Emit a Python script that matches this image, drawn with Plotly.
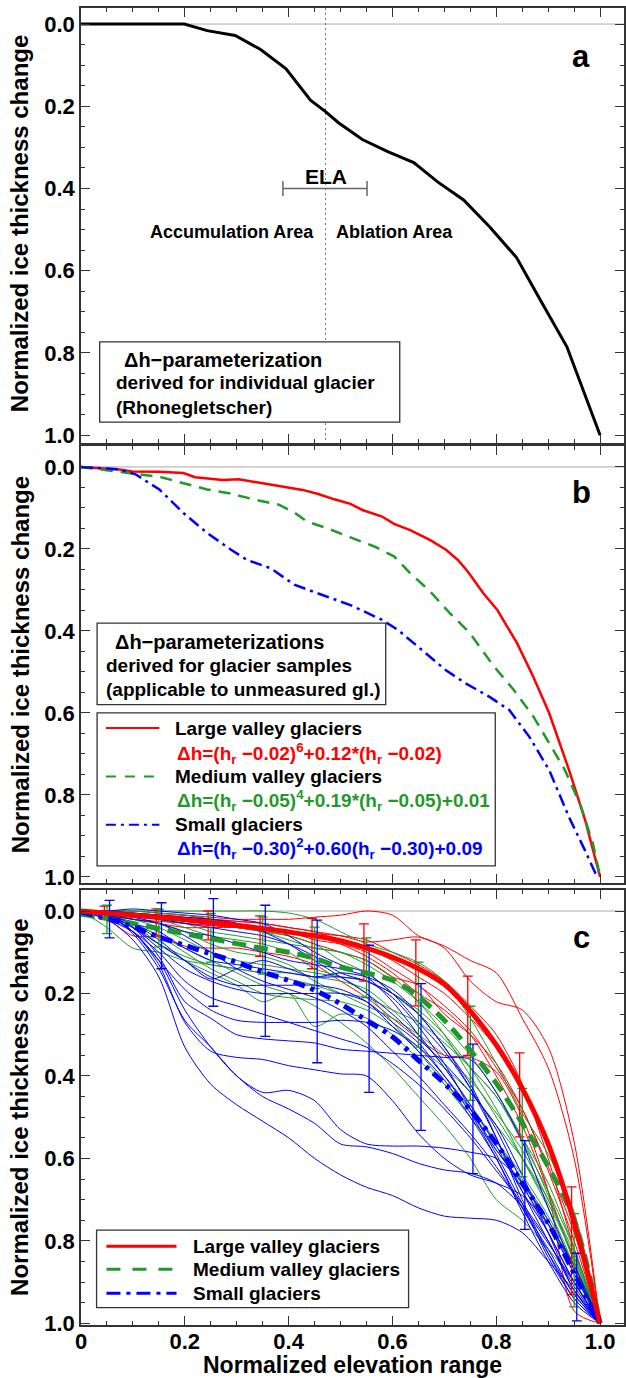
import plotly.graph_objects as go
from plotly.subplots import make_subplots

FONT = "Liberation Sans, Arial, Helvetica, sans-serif"
RED = "#ff0000"
GREEN = "#1f9a2a"
BLUE = "#0000ff"

# ---------------- Panel a : Rhonegletscher ----------------
rhone_x = [0, 0.199, 0.243, 0.297, 0.346, 0.395, 0.442, 0.471, 0.496, 0.542, 0.592,
           0.641, 0.687, 0.737, 0.787, 0.839, 0.887, 0.936, 1.0]
rhone_y = [0, 0, 0.016, 0.028, 0.062, 0.109, 0.185, 0.213, 0.24, 0.281, 0.311,
           0.337, 0.384, 0.428, 0.493, 0.568, 0.676, 0.785, 1.0]
ela_x = 0.471
ela_lo, ela_hi, ela_y = 0.389, 0.551, 0.40

# ---------------- Panel b : parameterizations ----------------
large_x = [0, 0.074, 0.098, 0.151, 0.197, 0.220, 0.273, 0.304, 0.350, 0.396, 0.427, 0.457,
           0.488, 0.519, 0.542, 0.580, 0.603, 0.634, 0.672, 0.703, 0.726, 0.745, 0.775,
           0.802, 0.840, 0.871, 0.902, 0.940, 0.971, 1.0]
large_y = [0, 0.006, 0.011, 0.012, 0.015, 0.025, 0.032, 0.030, 0.040, 0.050, 0.056, 0.066,
           0.079, 0.090, 0.105, 0.121, 0.139, 0.154, 0.178, 0.202, 0.227, 0.255, 0.308,
           0.349, 0.430, 0.511, 0.601, 0.739, 0.861, 1.0]
medium_x = [0, 0.055, 0.101, 0.151, 0.197, 0.243, 0.289, 0.335, 0.381, 0.412, 0.435, 0.473,
            0.519, 0.565, 0.603, 0.634, 0.672, 0.710, 0.749, 0.795, 0.833, 0.871, 0.902,
            0.932, 0.963, 0.986, 1.0]
medium_y = [0, 0.008, 0.016, 0.024, 0.039, 0.055, 0.065, 0.080, 0.092, 0.112, 0.133, 0.149,
            0.172, 0.194, 0.218, 0.259, 0.303, 0.356, 0.405, 0.486, 0.543, 0.608, 0.674,
            0.739, 0.828, 0.918, 1.0]
small_x = [0, 0.074, 0.105, 0.151, 0.197, 0.243, 0.289, 0.320, 0.365, 0.412, 0.473, 0.519,
           0.580, 0.611, 0.657, 0.703, 0.741, 0.787, 0.825, 0.864, 0.902, 0.940, 0.971, 0.994]
small_y = [0, 0.006, 0.018, 0.055, 0.112, 0.161, 0.202, 0.227, 0.247, 0.288, 0.316, 0.337,
           0.373, 0.398, 0.447, 0.496, 0.528, 0.561, 0.593, 0.659, 0.740, 0.854, 0.936, 1.0]

# ---------------- Panel c : individual glaciers ----------------
grid_x = [0, 0.05, 0.1, 0.15, 0.2, 0.25, 0.3, 0.35, 0.4, 0.45, 0.5,
          0.55, 0.6, 0.65, 0.7, 0.75, 0.8, 0.85, 0.9, 0.95, 1.0]

large_thin = [
    [0, 0.005, 0.01, 0.01, 0.01, 0.015, 0.02, 0.02, 0.02, 0.015, 0.01, 0.0, 0.01, 0.06, 0.085, 0.12, 0.15, 0.26, 0.38, 0.6, 1.0],
    [0, 0.0, 0.005, 0.01, 0.015, 0.02, 0.025, 0.03, 0.04, 0.05, 0.06, 0.075, 0.07, 0.063, 0.09, 0.17, 0.22, 0.24, 0.33, 0.56, 1.0],
    [0, 0.01, 0.02, 0.025, 0.03, 0.035, 0.04, 0.05, 0.06, 0.08, 0.1, 0.12, 0.16, 0.18, 0.25, 0.30, 0.37, 0.48, 0.62, 0.78, 1.0],
    [0, 0.02, 0.06, 0.063, 0.085, 0.09, 0.09, 0.1, 0.11, 0.13, 0.17, 0.21, 0.26, 0.31, 0.35, 0.355, 0.39, 0.5, 0.68, 0.97, 1.0],
    [0, 0.0, 0.005, 0.01, 0.02, 0.02, 0.025, 0.03, 0.04, 0.05, 0.07, 0.09, 0.12, 0.16, 0.2, 0.26, 0.33, 0.43, 0.57, 0.75, 1.0],
    [0, 0.01, 0.015, 0.02, 0.03, 0.035, 0.04, 0.045, 0.05, 0.07, 0.08, 0.1, 0.14, 0.18, 0.23, 0.29, 0.38, 0.48, 0.63, 0.8, 1.0],
    [0, 0.0, 0.0, 0.005, 0.01, 0.02, 0.03, 0.04, 0.05, 0.06, 0.08, 0.11, 0.15, 0.2, 0.24, 0.3, 0.4, 0.52, 0.68, 0.85, 1.0],
    [0, 0.005, 0.02, 0.03, 0.04, 0.04, 0.04, 0.045, 0.05, 0.055, 0.06, 0.07, 0.1, 0.13, 0.17, 0.23, 0.3, 0.42, 0.6, 0.82, 1.0],
]
medium_thin = [
    [0, 0, 0, 0, 0, 0, 0, 0, 0.005, 0.02, 0.05, 0.08, 0.1, 0.125, 0.17, 0.26, 0.37, 0.49, 0.59, 0.73, 1.0],
    [0, 0.04, 0.09, 0.1, 0.12, 0.13, 0.14, 0.15, 0.165, 0.18, 0.2, 0.21, 0.24, 0.27, 0.32, 0.38, 0.45, 0.55, 0.66, 0.82, 1.0],
    [0, 0.01, 0.03, 0.06, 0.1, 0.14, 0.17, 0.2, 0.21, 0.215, 0.22, 0.24, 0.28, 0.33, 0.38, 0.44, 0.52, 0.6, 0.7, 0.83, 1.0],
    [0, 0.01, 0.03, 0.08, 0.12, 0.15, 0.18, 0.22, 0.2, 0.28, 0.25, 0.26, 0.3, 0.36, 0.42, 0.48, 0.56, 0.64, 0.74, 0.86, 1.0],
    [0, 0.0, 0.005, 0.01, 0.02, 0.03, 0.04, 0.05, 0.06, 0.08, 0.12, 0.15, 0.2, 0.25, 0.31, 0.38, 0.45, 0.56, 0.68, 0.82, 1.0],
    [0, 0.005, 0.01, 0.02, 0.04, 0.06, 0.07, 0.08, 0.1, 0.14, 0.16, 0.2, 0.27, 0.34, 0.42, 0.5, 0.58, 0.67, 0.76, 0.87, 1.0],
    [0, 0.0, 0.0, 0.005, 0.01, 0.02, 0.03, 0.05, 0.07, 0.09, 0.1, 0.13, 0.17, 0.22, 0.28, 0.35, 0.44, 0.55, 0.69, 0.85, 1.0],
    [0, 0.01, 0.04, 0.08, 0.11, 0.13, 0.14, 0.15, 0.15, 0.16, 0.17, 0.19, 0.24, 0.3, 0.38, 0.47, 0.56, 0.65, 0.75, 0.88, 1.0],
    [0, 0.01, 0.03, 0.06, 0.09, 0.12, 0.15, 0.18, 0.2, 0.23, 0.27, 0.32, 0.38, 0.45, 0.52, 0.6, 0.7, 0.75, 0.82, 0.9, 1.0],
    [0, 0.005, 0.02, 0.04, 0.07, 0.1, 0.12, 0.13, 0.14, 0.15, 0.16, 0.17, 0.2, 0.24, 0.3, 0.38, 0.48, 0.6, 0.72, 0.86, 1.0],
    [0, 0.0, 0.01, 0.02, 0.03, 0.05, 0.06, 0.07, 0.08, 0.09, 0.1, 0.12, 0.16, 0.22, 0.3, 0.4, 0.5, 0.6, 0.71, 0.84, 1.0],
    [0, 0.01, 0.02, 0.03, 0.05, 0.08, 0.1, 0.11, 0.13, 0.17, 0.2, 0.23, 0.26, 0.3, 0.35, 0.41, 0.49, 0.58, 0.7, 0.84, 1.0],
]
small_thin = [
    [0, 0.02, 0.07, 0.16, 0.33, 0.42, 0.47, 0.51, 0.55, 0.60, 0.64, 0.67, 0.69, 0.72, 0.74, 0.745, 0.75, 0.78, 0.85, 0.92, 1.0],
    [0, 0.01, 0.055, 0.14, 0.265, 0.33, 0.40, 0.45, 0.48, 0.515, 0.565, 0.572, 0.588, 0.612, 0.628, 0.636, 0.66, 0.717, 0.806, 0.9, 1.0],
    [0, 0.01, 0.05, 0.12, 0.24, 0.33, 0.40, 0.44, 0.435, 0.46, 0.53, 0.565, 0.57, 0.57, 0.575, 0.585, 0.6, 0.66, 0.76, 0.88, 1.0],
    [0, 0.01, 0.04, 0.11, 0.22, 0.26, 0.30, 0.31, 0.315, 0.32, 0.335, 0.34, 0.345, 0.35, 0.355, 0.36, 0.44, 0.56, 0.72, 0.87, 1.0],
    [0, 0.01, 0.05, 0.12, 0.19, 0.24, 0.265, 0.27, 0.27, 0.27, 0.265, 0.27, 0.29, 0.33, 0.40, 0.48, 0.58, 0.66, 0.75, 0.87, 1.0],
    [0, 0.01, 0.05, 0.13, 0.27, 0.34, 0.355, 0.36, 0.375, 0.385, 0.395, 0.40, 0.46, 0.54, 0.6, 0.64, 0.66, 0.69, 0.76, 0.86, 1.0],
    [0, 0.01, 0.04, 0.08, 0.12, 0.165, 0.14, 0.12, 0.14, 0.16, 0.15, 0.16, 0.19, 0.25, 0.33, 0.43, 0.55, 0.68, 0.8, 0.91, 1.0],
    [0, 0.0, -0.005, 0.0, 0.005, 0.01, 0.02, 0.03, 0.06, 0.1, 0.13, 0.15, 0.2, 0.27, 0.34, 0.43, 0.53, 0.66, 0.78, 0.9, 1.0],
    [0, 0.01, 0.03, 0.07, 0.12, 0.16, 0.18, 0.18, 0.18, 0.18, 0.19, 0.22, 0.28, 0.34, 0.41, 0.5, 0.6, 0.72, 0.83, 0.93, 1.0],
    [0, 0.01, 0.02, 0.03, 0.05, 0.06, 0.08, 0.1, 0.12, 0.13, 0.14, 0.16, 0.22, 0.3, 0.38, 0.47, 0.57, 0.68, 0.78, 0.9, 1.0],
    [0, 0.0, 0.01, 0.02, 0.03, 0.04, 0.05, 0.06, 0.08, 0.11, 0.15, 0.17, 0.2, 0.25, 0.33, 0.42, 0.55, 0.7, 0.83, 0.94, 1.0],
    [0, 0.01, 0.03, 0.05, 0.09, 0.12, 0.13, 0.14, 0.15, 0.16, 0.16, 0.17, 0.21, 0.28, 0.37, 0.48, 0.59, 0.71, 0.84, 0.94, 1.0],
    [0, 0.005, 0.015, 0.03, 0.06, 0.1, 0.14, 0.17, 0.19, 0.21, 0.24, 0.28, 0.34, 0.4, 0.47, 0.54, 0.62, 0.72, 0.82, 0.93, 1.0],
    [0, 0.01, 0.04, 0.09, 0.14, 0.17, 0.19, 0.2, 0.2, 0.2, 0.2, 0.22, 0.27, 0.32, 0.4, 0.49, 0.6, 0.73, 0.85, 0.95, 1.0],
    [0, 0, 0.005, 0.01, 0.015, 0.02, 0.03, 0.05, 0.08, 0.12, 0.16, 0.2, 0.25, 0.31, 0.37, 0.44, 0.52, 0.64, 0.78, 0.92, 1.0],
    [0, 0.02, 0.05, 0.1, 0.17, 0.21, 0.23, 0.25, 0.27, 0.29, 0.31, 0.33, 0.37, 0.42, 0.48, 0.55, 0.63, 0.71, 0.8, 0.92, 1.0],
]

c_large_x = [0, 0.1, 0.2, 0.3, 0.4, 0.5, 0.55, 0.6, 0.65, 0.7, 0.75, 0.8, 0.85, 0.9, 0.95, 1.0]
c_large_y = [0, 0.01, 0.021, 0.035, 0.051, 0.072, 0.09, 0.112, 0.14, 0.178, 0.243, 0.325, 0.43, 0.565, 0.755, 1.0]
c_medium_x = [0, 0.05, 0.15, 0.2, 0.25, 0.3, 0.35, 0.4, 0.45, 0.5, 0.6, 0.65, 0.7, 0.75, 0.8, 0.85, 0.9, 0.95, 1.0]
c_medium_y = [0.008, 0.018, 0.043, 0.055, 0.067, 0.079, 0.091, 0.1, 0.115, 0.136, 0.168, 0.208, 0.265, 0.338, 0.418, 0.515, 0.62, 0.75, 1.0]
c_small_x = [0, 0.05, 0.1, 0.15, 0.2, 0.25, 0.3, 0.35, 0.4, 0.45, 0.5, 0.55, 0.6, 0.65, 0.7, 0.75, 0.8, 0.85, 0.9, 0.95, 1.0]
c_small_y = [0.002, 0.018, 0.038, 0.063, 0.083, 0.104, 0.124, 0.148, 0.168, 0.192, 0.225, 0.265, 0.305, 0.362, 0.418, 0.483, 0.564, 0.66, 0.757, 0.879, 1.0]

# error bars (low / high)
err_large_x = [0.045, 0.145, 0.245, 0.345, 0.445, 0.545, 0.645, 0.745, 0.845, 0.945]
err_large_lo = [-0.012, -0.005, 0.0, 0.012, 0.018, 0.031, 0.07, 0.158, 0.344, 0.669]
err_large_hi = [0.02, 0.06, 0.07, 0.11, 0.14, 0.17, 0.23, 0.35, 0.548, 0.93]
err_medium_x = [0.05, 0.15, 0.25, 0.35, 0.45, 0.55, 0.65, 0.75, 0.85, 0.95]
err_medium_lo = [-0.014, -0.004, 0.006, 0.015, 0.039, 0.065, 0.124, 0.231, 0.43, 0.734]
err_medium_hi = [0.055, 0.087, 0.124, 0.153, 0.188, 0.21, 0.33, 0.459, 0.645, 0.96]
err_small_x = [0.055, 0.155, 0.255, 0.355, 0.455, 0.555, 0.655, 0.755, 0.855, 0.955]
err_small_lo = [-0.026, -0.02, -0.03, -0.014, 0.022, 0.083, 0.176, 0.323, 0.557, 0.83]
err_small_hi = [0.065, 0.14, 0.231, 0.304, 0.368, 0.44, 0.532, 0.637, 0.772, 0.994]

x_ticks = [0, 0.2, 0.4, 0.6, 0.8, 1.0]
x_ticktext = ["0", "0.2", "0.4", "0.6", "0.8", "1.0"]
y_ticks = [0, 0.2, 0.4, 0.6, 0.8, 1.0]
y_ticktext = ["0.0", "0.2", "0.4", "0.6", "0.8", "1.0"]

fig = make_subplots(rows=3, cols=1)

# ---- panel a
fig.add_trace(go.Scatter(x=rhone_x, y=rhone_y, mode="lines",
                         line=dict(color="black", width=3), showlegend=False), row=1, col=1)
fig.add_trace(go.Scatter(x=[ela_lo, ela_hi], y=[ela_y, ela_y], mode="lines",
                         line=dict(color="#666666", width=1.5), showlegend=False,
                         error_y=dict(type="constant", value=0.018, color="#666666",
                                      thickness=1.5, width=0)), row=1, col=1)

# ---- panel b
fig.add_trace(go.Scatter(x=large_x, y=large_y, mode="lines",
                         line=dict(color=RED, width=2.5), showlegend=False), row=2, col=1)
fig.add_trace(go.Scatter(x=medium_x, y=medium_y, mode="lines",
                         line=dict(color=GREEN, width=2.5, dash="12px,8px"), showlegend=False), row=2, col=1)
fig.add_trace(go.Scatter(x=small_x, y=small_y, mode="lines",
                         line=dict(color=BLUE, width=2.5, dash="12px,5px,3px,5px"), showlegend=False), row=2, col=1)

# ---- panel c thin lines
for ys in large_thin:
    fig.add_trace(go.Scatter(x=grid_x, y=ys, mode="lines", line=dict(color=RED, width=1, shape="spline", smoothing=0.8),
                             showlegend=False), row=3, col=1)
for ys in medium_thin:
    fig.add_trace(go.Scatter(x=grid_x, y=ys, mode="lines", line=dict(color=GREEN, width=1, shape="spline", smoothing=0.8),
                             showlegend=False), row=3, col=1)
for ys in small_thin:
    fig.add_trace(go.Scatter(x=grid_x, y=ys, mode="lines", line=dict(color=BLUE, width=1, shape="spline", smoothing=0.8),
                             showlegend=False), row=3, col=1)


def add_err(xs, lo, hi, color):
    mid = [(a + b) / 2 for a, b in zip(lo, hi)]
    plus = [b - m for b, m in zip(hi, mid)]
    minus = [m - a for a, m in zip(lo, mid)]
    fig.add_trace(go.Scatter(x=xs, y=mid, mode="markers",
                             marker=dict(size=1, color="rgba(0,0,0,0)"),
                             error_y=dict(type="data", symmetric=False, array=plus, arrayminus=minus,
                                          color=color, thickness=1.3, width=5),
                             showlegend=False), row=3, col=1)


add_err(err_large_x, err_large_lo, err_large_hi, RED)
add_err(err_medium_x, err_medium_lo, err_medium_hi, GREEN)
add_err(err_small_x, err_small_lo, err_small_hi, BLUE)

fig.add_trace(go.Scatter(x=c_medium_x, y=c_medium_y, mode="lines",
                         line=dict(color=GREEN, width=5, dash="14px,8px", shape="spline"), showlegend=False), row=3, col=1)
fig.add_trace(go.Scatter(x=c_small_x, y=c_small_y, mode="lines",
                         line=dict(color=BLUE, width=5, dash="12px,6px,4px,6px", shape="spline"), showlegend=False), row=3, col=1)
fig.add_trace(go.Scatter(x=c_large_x, y=c_large_y, mode="lines",
                         line=dict(color=RED, width=5, shape="spline"), showlegend=False), row=3, col=1)

# ---------------- axes ----------------
axcol = "#333333"
common = dict(showline=True, linecolor=axcol, linewidth=1.5, mirror="allticks",
              ticks="inside", ticklen=9, tickwidth=1.2, tickcolor=axcol,
              showgrid=False, zeroline=False,
              tickfont=dict(family=FONT, size=22, color="black", weight="bold"))
xr = [0, 1.046]
for i, (dom_lo, dom_hi, yr) in enumerate([(0.6697, 1.0, [1.019, -0.039]),
                                          (0.3356, 0.6674, [1.015, -0.051]),
                                          (0.0, 0.3303, [1.004, -0.051])]):
    xn = "xaxis" if i == 0 else f"xaxis{i+1}"
    yn = "yaxis" if i == 0 else f"yaxis{i+1}"
    fig.layout[xn].update(range=xr, tickmode="array", tickvals=x_ticks, ticktext=x_ticktext,
                          showticklabels=(i == 2),
                          minor=dict(ticks="inside", ticklen=4, tickcolor=axcol, tickwidth=1,
                                     tickmode="linear", tick0=0, dtick=0.05),
                          **common)
    fig.layout[yn].update(range=yr, domain=[dom_lo, dom_hi], tickmode="array",
                          tickvals=y_ticks, ticktext=y_ticktext,
                          minor=dict(ticks="inside", ticklen=4, tickcolor=axcol, tickwidth=1,
                                     tickmode="linear", tick0=0, dtick=0.05),
                          **common)
fig.layout.xaxis3.update(ticklabelstandoff=-4)

shapes = []
ann = []


def T(text, x, y, xr_, yr_, size=19, color="black", xanchor="left"):
    ann.append(dict(text=text, x=x, y=y, xref=xr_, yref=yr_, showarrow=False,
                    xanchor=xanchor, yanchor="middle",
                    font=dict(family=FONT, size=size, color=color, weight="bold")))


# zero lines
for xr_, yr_ in [("x", "y"), ("x2", "y2"), ("x3", "y3")]:
    shapes.append(dict(type="line", xref=xr_, yref=yr_, x0=0, x1=1.046, y0=0, y1=0,
                       line=dict(color="#aaaaaa", width=1), layer="below"))

# panel a extras
shapes.append(dict(type="line", xref="x", yref="y", x0=ela_x, x1=ela_x, y0=-0.039, y1=1.019,
                   line=dict(color="#777777", width=1, dash="2px,3px"), layer="below"))
shapes.append(dict(type="rect", xref="x", yref="y", x0=0.036, x1=0.614, y0=0.773, y1=0.968,
                   line=dict(color="#333333", width=1.3), fillcolor="white"))
T("ELA", ela_x, 0.372, "x", "y", size=21, xanchor="center")
T("Accumulation Area", 0.29, 0.505, "x", "y", size=18, xanchor="center")
T("Ablation Area", 0.603, 0.505, "x", "y", size=18, xanchor="center")
T("Δh−parameterization", 0.079, 0.817, "x", "y", size=20)
T("derived for individual glacier", 0.063, 0.873, "x", "y", size=19)
T("(Rhonegletscher)", 0.063, 0.932, "x", "y", size=19)
T("a", 0.963, 0.08, "x", "y", size=31, xanchor="center")

# panel b extras
shapes.append(dict(type="rect", xref="x2", yref="y2", x0=0.031, x1=0.587, y0=0.381, y1=0.58,
                   line=dict(color="#333333", width=1.3), fillcolor="white"))
T("Δh−parameterizations", 0.061, 0.427, "x2", "y2", size=20)
T("derived for glacier samples", 0.044, 0.485, "x2", "y2", size=19)
T("(applicable to unmeasured gl.)", 0.044, 0.544, "x2", "y2", size=19)
shapes.append(dict(type="rect", xref="x2", yref="y2", x0=0.031, x1=0.798, y0=0.60, y1=0.973,
                   line=dict(color="#333333", width=1.3), fillcolor="white"))
shapes.append(dict(type="line", xref="x2", yref="y2", x0=0.048, x1=0.151, y0=0.637, y1=0.637,
                   line=dict(color=RED, width=2)))
shapes.append(dict(type="line", xref="x2", yref="y2", x0=0.048, x1=0.151, y0=0.755, y1=0.755,
                   line=dict(color=GREEN, width=2, dash="10px,9px")))
shapes.append(dict(type="line", xref="x2", yref="y2", x0=0.048, x1=0.151, y0=0.873, y1=0.873,
                   line=dict(color=BLUE, width=2, dash="10px,5px,3px,5px")))
T("Large valley glaciers", 0.178, 0.637, "x2", "y2")
T("Δh=(h<sub>r</sub> −0.02)<sup>6</sup>+0.12*(h<sub>r</sub> −0.02)", 0.182, 0.698, "x2", "y2", color=RED)
T("Medium valley glaciers", 0.178, 0.755, "x2", "y2")
T("Δh=(h<sub>r</sub> −0.05)<sup>4</sup>+0.19*(h<sub>r</sub> −0.05)+0.01", 0.182, 0.814, "x2", "y2", color=GREEN)
T("Small glaciers", 0.178, 0.873, "x2", "y2")
T("Δh=(h<sub>r</sub> −0.30)<sup>2</sup>+0.60(h<sub>r</sub> −0.30)+0.09", 0.182, 0.930, "x2", "y2", color=BLUE)
T("b", 0.965, 0.063, "x2", "y2", size=31, xanchor="center")

# panel c extras
shapes.append(dict(type="rect", xref="x3", yref="y3", x0=0.030, x1=0.631, y0=0.774, y1=0.962,
                   line=dict(color="#333333", width=1.3), fillcolor="white"))
shapes.append(dict(type="line", xref="x3", yref="y3", x0=0.049, x1=0.184, y0=0.813, y1=0.813,
                   line=dict(color=RED, width=3)))
shapes.append(dict(type="line", xref="x3", yref="y3", x0=0.049, x1=0.184, y0=0.869, y1=0.869,
                   line=dict(color=GREEN, width=3, dash="14px,12px")))
shapes.append(dict(type="line", xref="x3", yref="y3", x0=0.049, x1=0.184, y0=0.927, y1=0.927,
                   line=dict(color=BLUE, width=3, dash="14px,6px,4px,6px")))
T("Large valley glaciers", 0.211, 0.813, "x3", "y3")
T("Medium valley glaciers", 0.211, 0.869, "x3", "y3")
T("Small glaciers", 0.211, 0.927, "x3", "y3")
T("c", 0.964, 0.063, "x3", "y3", size=31, xanchor="center")

# axis titles
for yp in [0.836, 0.501, 0.165]:
    ann.append(dict(text="Normalized ice thickness change", x=-0.112, y=yp, xref="paper", yref="paper",
                    textangle=-90, showarrow=False, xanchor="center", yanchor="middle",
                    font=dict(family=FONT, size=24, color="black", weight="bold")))
ann.append(dict(text="Normalized elevation range", x=0.5, y=-0.0304, xref="paper", yref="paper",
                showarrow=False, xanchor="center", yanchor="middle",
                font=dict(family=FONT, size=23, color="black", weight="bold")))

fig.update_layout(width=626, height=1378, margin=dict(l=81, r=0, t=8, b=53),
                  paper_bgcolor="white", plot_bgcolor="white",
                  font=dict(family=FONT, color="black"),
                  shapes=shapes, annotations=ann, showlegend=False)

fig.write_html("out.html", config={"displayModeBar": False},
               post_script="document.body.style.margin='0px';document.body.style.overflow='hidden';")
